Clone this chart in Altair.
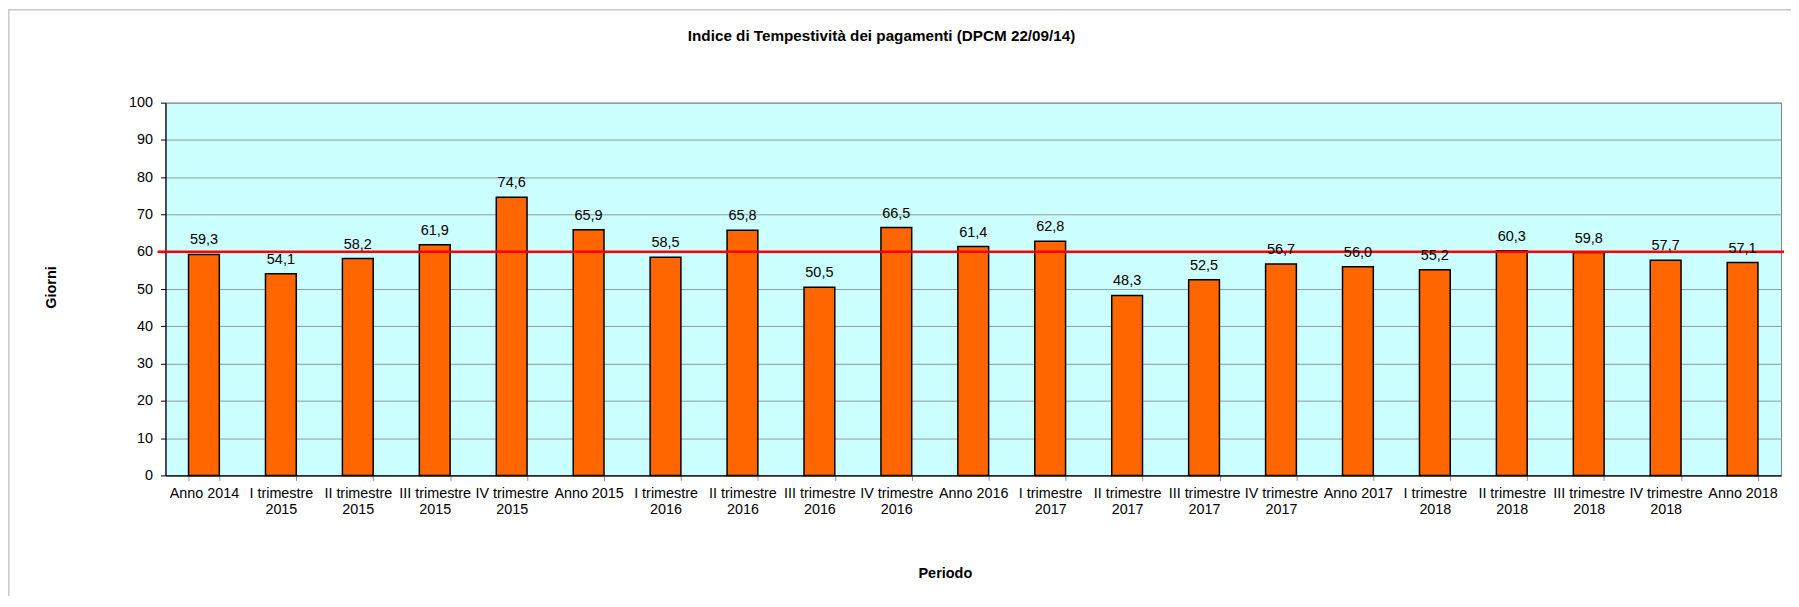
import altair as alt
import pandas as pd

periods = [
    "Anno 2014", "I trimestre 2015", "II trimestre 2015", "III trimestre 2015",
    "IV trimestre 2015", "Anno 2015", "I trimestre 2016", "II trimestre 2016",
    "III trimestre 2016", "IV trimestre 2016", "Anno 2016", "I trimestre 2017",
    "II trimestre 2017", "III trimestre 2017", "IV trimestre 2017", "Anno 2017",
    "I trimestre 2018", "II trimestre 2018", "III trimestre 2018",
    "IV trimestre 2018", "Anno 2018",
]
giorni = [59.3, 54.1, 58.2, 61.9, 74.6, 65.9, 58.5, 65.8, 50.5, 66.5, 61.4,
          62.8, 48.3, 52.5, 56.7, 56.0, 55.2, 60.3, 59.8, 57.7, 57.1]
soglia = [60]
y_ticks = [0, 10, 20, 30, 40, 50, 60, 70, 80, 90, 100]

FONT = "Liberation Sans"
W, H = 1621, 374

df = pd.DataFrame({"Periodo": periods, "Giorni": giorni})
df_soglia = pd.DataFrame({"Giorni": soglia})
df_one = pd.DataFrame({"k": [0]})

label_expr = (
    "indexof(datum.label,'trimestre')>=0 ? "
    "[slice(datum.label,0,indexof(datum.label,'trimestre')+9), "
    "slice(datum.label,indexof(datum.label,'trimestre')+10)] : datum.label"
)

x_enc = alt.X(
    "Periodo:N",
    sort=periods,
    scale=alt.Scale(paddingInner=0.6, paddingOuter=0.3),
    axis=alt.Axis(
        title="Periodo",
        titleFont=FONT, titleFontSize=14.5, titleFontWeight="bold", titleColor="black",
        titleX=782, titleY=98, titleAlign="center", titleBaseline="middle",
        labelAngle=0, labelExpr=label_expr, labelFont=FONT, labelFontSize=14.4,
        labelColor="black", labelBaseline="top", labelLineHeight=16.7,
        labelPadding=6, tickBand="extent", tickSize=5, tickColor="#909090",
        domainColor="black", domainWidth=1.2, grid=False,
    ),
)
y_enc = alt.Y(
    "Giorni:Q",
    scale=alt.Scale(domain=[0, 100], nice=False),
    axis=alt.Axis(
        values=y_ticks, title="Giorni",
        titleFont=FONT, titleFontSize=14.5, titleFontWeight="bold", titleColor="black",
        titleX=-114, titleY=185, titleAlign="center", titleBaseline="middle", titleAngle=270,
        labelFont=FONT, labelFontSize=14.4, labelColor="black", labelPadding=8,
        tickSize=5, tickColor="black", domainColor="black", domainWidth=1.2,
        grid=True, gridColor="#8C9C9C", gridWidth=1,
    ),
)

base = alt.Chart(df)

bars = base.mark_bar(color="#FF6600", stroke="black", strokeWidth=1.5).encode(
    x=x_enc, y=y_enc
)

labels = base.transform_calculate(
    lab="replace(format(datum.Giorni, '.1f'), '.', ',')"
).mark_text(
    font=FONT, fontSize=14.5, color="black", baseline="middle", dy=-14
).encode(
    x=x_enc,
    y=y_enc,
    text="lab:N",
)

red = alt.Chart(df_soglia).mark_rule(color="#FF0000", strokeWidth=2.5).encode(
    y=y_enc,
    x=alt.value(-8),
    x2=alt.value(W + 3),
)

border_left = alt.Chart(df_one).mark_rule(color="#C8C8C8", strokeWidth=1.5).encode(
    x=alt.value(-157.2), y=alt.value(-94), y2=alt.value(H + 130)
)
border_top = alt.Chart(df_one).mark_rule(color="#C8C8C8", strokeWidth=1.5).encode(
    x=alt.value(-158), x2=alt.value(W + 20), y=alt.value(-93.2)
)

chart = alt.layer(bars, red, labels, border_left, border_top).properties(
    width=W,
    height=H,
    autosize=alt.AutoSizeParams(type="none"),
    padding={"left": 158, "top": 94, "right": 10, "bottom": 120},
    view=alt.ViewBackground(fill="#CCFFFF", stroke="#808080", strokeWidth=1),
    title=alt.TitleParams(
        "Indice di Tempestività dei pagamenti (DPCM 22/09/14)",
        font=FONT, fontSize=15.3, fontWeight="bold", color="black",
        anchor="middle", dx=-92, offset=0, dy=43, baseline="middle",
    ),
).configure_view(
    fill="#CCFFFF", stroke="#808080", strokeWidth=1
).configure(background="white")

chart.save("out.html", embed_options={"renderer": "svg", "actions": False})
